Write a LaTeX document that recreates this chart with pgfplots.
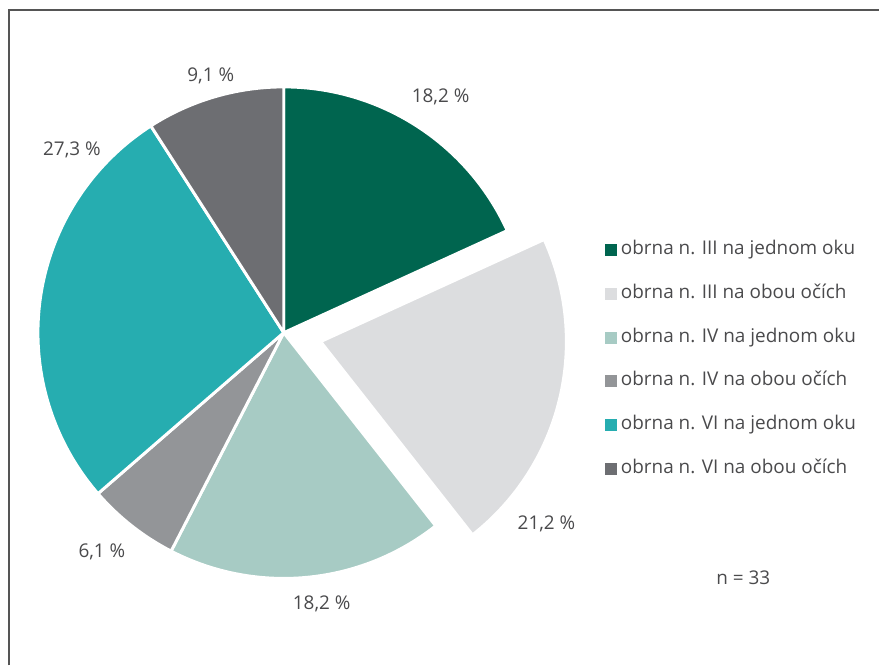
\documentclass[border=0pt]{standalone}
\usepackage{pgfplots}
\pgfplotsset{compat=1.18}
\usepackage{pgfplotstable}
\usepackage{fontspec}
\setmainfont{Open Sans}
\definecolor{cA}{HTML}{00654F}
\definecolor{cB}{HTML}{DCDDDF}
\definecolor{cC}{HTML}{A7CBC4}
\definecolor{cD}{HTML}{939598}
\definecolor{cE}{HTML}{26ADB0}
\definecolor{cF}{HTML}{6D6E72}
\definecolor{txt}{HTML}{4A4A4C}
\definecolor{frame}{HTML}{555555}
\pgfkeys{/pgf/number format/assume math mode=true}
\pgfplotstableread{
count
6
7
6
2
9
3
}\piedata
\pgfplotstablegetelem{0}{count}\of\piedata \let\nA\pgfplotsretval
\pgfplotstablegetelem{1}{count}\of\piedata \let\nB\pgfplotsretval
\pgfplotstablegetelem{2}{count}\of\piedata \let\nC\pgfplotsretval
\pgfplotstablegetelem{3}{count}\of\piedata \let\nD\pgfplotsretval
\pgfplotstablegetelem{4}{count}\of\piedata \let\nE\pgfplotsretval
\pgfplotstablegetelem{5}{count}\of\piedata \let\nF\pgfplotsretval
\pgfmathtruncatemacro\total{\nA+\nB+\nC+\nD+\nE+\nF}
\pgfmathsetmacro\aA{90}
\pgfmathsetmacro\aB{\aA-360*\nA/\total}
\pgfmathsetmacro\aC{\aB-360*\nB/\total}
\pgfmathsetmacro\aD{\aC-360*\nC/\total}
\pgfmathsetmacro\aE{\aD-360*\nD/\total}
\pgfmathsetmacro\aF{\aE-360*\nE/\total}
\pgfmathsetmacro\aG{\aF-360*\nF/\total}
\pgfmathsetmacro\mB{(\aB+\aC)/2}
\pgfmathsetmacro\dxB{38*cos(\mB)}
\pgfmathsetmacro\dyB{-38*sin(\mB)}
\def\pct#1#2{\pgfmathparse{100*#1/\total}\pgfmathprintnumberto[fixed,fixed zerofill,precision=1,use comma]{\pgfmathresult}#2}
\pct\nA\pA \pct\nB\pB \pct\nC\pC \pct\nD\pD \pct\nE\pE \pct\nF\pF
\newcommand\slice[5]{%
  \fill[#3, draw=white, line width=2.2pt, line join=round]
    (axis cs:{284+#4},{333+#5}) -- (axis cs:{284+#4+246*cos(#1)},{333+#5-246*sin(#1)})
    arc[start angle=#1, end angle=#2, radius=184.5pt] -- cycle;}
\begin{document}%
\begin{tikzpicture}
\begin{axis}[
  x=0.75pt, y=0.75pt, scale only axis,
  xmin=0, xmax=880, ymin=0, ymax=666, y dir=reverse,
  hide axis, clip=false,
  legend style={at={(axis cs:605,241)}, anchor=north west, draw=none, fill=none,
    inner sep=0pt, row sep=19.9pt,
    nodes={inner sep=0pt, text=txt, font=\fontsize{14.2}{17}\selectfont, text height=10pt, text depth=3pt},
    /tikz/every odd column/.append style={column sep=3.6pt}},
  legend cell align=left,
]
\path (axis cs:0,0) rectangle (axis cs:880,666);
\draw[frame, line width=1.3pt] (axis cs:9,666) -- (axis cs:9,10) -- (axis cs:880,10);
\slice{\aA}{\aB}{cA}{0}{0}
\slice{\aB}{\aC}{cB}{\dxB}{\dyB}
\slice{\aC}{\aD}{cC}{0}{0}
\slice{\aD}{\aE}{cD}{0}{0}
\slice{\aE}{\aF}{cE}{0}{0}
\slice{\aF}{\aG}{cF}{0}{0}
\addlegendimage{legend image code/.code={\fill[cA] (0pt,-4.1pt) rectangle (8.2pt,4.1pt);}}
\addlegendentry{obrna n. III na jednom oku}
\addlegendimage{legend image code/.code={\fill[cB] (0pt,-4.1pt) rectangle (8.2pt,4.1pt);}}
\addlegendentry{obrna n. III na obou očích}
\addlegendimage{legend image code/.code={\fill[cC] (0pt,-4.1pt) rectangle (8.2pt,4.1pt);}}
\addlegendentry{obrna n. IV na jednom oku}
\addlegendimage{legend image code/.code={\fill[cD] (0pt,-4.1pt) rectangle (8.2pt,4.1pt);}}
\addlegendentry{obrna n. IV na obou očích}
\addlegendimage{legend image code/.code={\fill[cE] (0pt,-4.1pt) rectangle (8.2pt,4.1pt);}}
\addlegendentry{obrna n. VI na jednom oku}
\addlegendimage{legend image code/.code={\fill[cF] (0pt,-4.1pt) rectangle (8.2pt,4.1pt);}}
\addlegendentry{obrna n. VI na obou očích}
\begin{scope}[every node/.style={text=txt, font=\fontsize{14.2}{17}\selectfont}]
\node at (axis cs:441,97) {\pA~\%};
\node at (axis cs:547,524) {\pB~\%};
\node at (axis cs:322,604) {\pC~\%};
\node at (axis cs:102,552) {\pD~\%};
\node at (axis cs:72,150) {\pE~\%};
\node at (axis cs:211,76) {\pF~\%};
\node at (axis cs:744,578) {n = \total};
\end{scope}
\end{axis}
\end{tikzpicture}%
\end{document}
